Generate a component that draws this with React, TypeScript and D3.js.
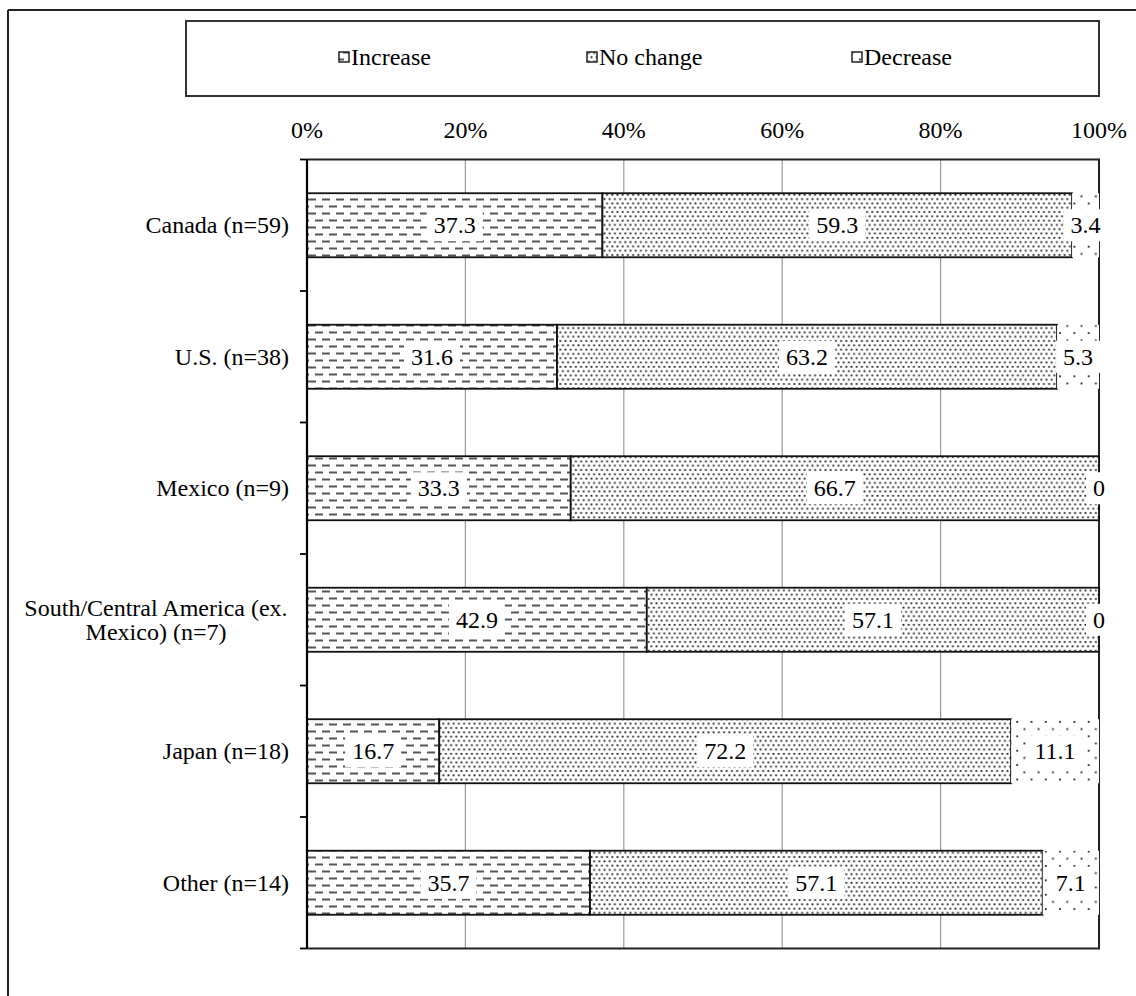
import React from "react";
import * as d3 from "d3";

// Share of respondents by region and expected change
const categories = [
  "Canada (n=59)",
  "U.S. (n=38)",
  "Mexico (n=9)",
  "South/Central America (ex.|Mexico) (n=7)",
  "Japan (n=18)",
  "Other (n=14)",
];
const seriesNames = ["Increase", "No change", "Decrease"];
const increaseValues = [37.3, 31.6, 33.3, 42.9, 16.7, 35.7];
const noChangeValues = [59.3, 63.2, 66.7, 57.1, 72.2, 57.1];
const decreaseValues = [3.4, 5.3, 0, 0, 11.1, 7.1];
const tickValues = [0, 20, 40, 60, 80, 100];
const tickLabels = ["0%", "20%", "40%", "60%", "80%", "100%"];

const W = 1136;
const H = 996;
const FONT = '"Liberation Serif", "DejaVu Serif", serif';
const FS = 24;
const textStyle: React.CSSProperties = { fontFamily: FONT, fontSize: FS };

const plotLeft = 307;
const plotRight = 1099;
const plotTop = 159.5;
const plotBottom = 948.5;

const patternIds = ["pat-inc", "pat-nc", "pat-dec"];

function approxTextWidth(s: string): number {
  // rough Times-style advance widths, used only to size label backgrounds
  let w = 0;
  for (const ch of s) {
    if (ch === "." || ch === " ") w += 0.25;
    else w += 0.5;
  }
  return w * FS;
}

export default function App() {
  const rows = categories.map((c, i) => ({
    cat: c,
    Increase: increaseValues[i],
    "No change": noChangeValues[i],
    Decrease: decreaseValues[i],
  }));

  const stack = d3.stack<any>().keys(seriesNames).offset(d3.stackOffsetExpand);
  const layers = stack(rows);

  const x = d3.scaleLinear().domain([0, 1]).range([plotLeft, plotRight]);
  const xPct = d3.scaleLinear().domain([0, 100]).range([plotLeft, plotRight]);
  const y = d3
    .scaleBand<string>()
    .domain(categories)
    .range([plotTop, plotBottom])
    .paddingInner(0.513)
    .paddingOuter(0.2565);
  const step = y.step();
  const boundaries = d3.range(categories.length + 1).map((i) => plotTop + i * step);

  const legendItems = [
    { name: seriesNames[0], x: 339 },
    { name: seriesNames[1], x: 587 },
    { name: seriesNames[2], x: 852 },
  ];

  return (
    <svg
      width={W}
      height={H}
      style={{ position: "absolute", left: 0, top: 0, background: "#fff", fontFamily: FONT }}
    >
      <defs>
        <pattern id="pat-inc" patternUnits="userSpaceOnUse" width={14} height={14}>
          <rect width={14} height={14} fill="#fff" />
          <line x1={0} y1={3.5} x2={8} y2={3.5} stroke="#555" strokeWidth={2} />
          <line x1={7} y1={10.5} x2={14} y2={10.5} stroke="#555" strokeWidth={2} />
          <line x1={0} y1={10.5} x2={1} y2={10.5} stroke="#555" strokeWidth={2} />
        </pattern>
        <pattern id="pat-nc" patternUnits="userSpaceOnUse" width={5.2} height={8.6}>
          <rect width={5.2} height={8.6} fill="#fff" />
          <rect x={0.4} y={0.4} width={1.8} height={1.8} fill="#222" />
          <rect x={3} y={4.7} width={1.8} height={1.8} fill="#222" />
        </pattern>
        <pattern id="pat-dec" patternUnits="userSpaceOnUse" width={14.3} height={14.4}>
          <rect width={14.3} height={14.4} fill="#fff" />
          <rect x={1} y={1} width={1.8} height={1.8} fill="#222" />
          <rect x={8.15} y={8.2} width={1.8} height={1.8} fill="#222" />
        </pattern>
      </defs>

      {/* outer frame */}
      <line x1={8} y1={10} x2={W} y2={10} stroke="#222" strokeWidth={2} />
      <line x1={8} y1={10} x2={8} y2={H} stroke="#222" strokeWidth={2} />

      {/* legend */}
      <rect x={186} y={21} width={plotRight - 186} height={75} fill="#fff" stroke="#333" strokeWidth={2} />
      {legendItems.map((it, i) => (
        <g key={it.name}>
          <rect x={it.x} y={52} width={10} height={10} fill={`url(#${patternIds[i]})`} stroke="#222" strokeWidth={1.5} />
          <text x={it.x + 12} y={57} style={textStyle} dominantBaseline="central" fill="#000">
            {it.name}
          </text>
        </g>
      ))}

      {/* gridlines */}
      {tickValues.map((t) => (
        <line key={t} x1={xPct(t)} x2={xPct(t)} y1={plotTop} y2={plotBottom} stroke="#999" strokeWidth={1.2} />
      ))}

      {/* plot border */}
      <path
        d={`M${plotLeft},${plotTop}H${plotRight}V${plotBottom}H${plotLeft}`}
        fill="none"
        stroke="#222"
        strokeWidth={2}
      />

      {/* tick labels */}
      {tickValues.map((t, i) => (
        <text key={t} x={xPct(t)} y={130} style={textStyle} textAnchor="middle" dominantBaseline="central" fill="#000">
          {tickLabels[i]}
        </text>
      ))}

      {/* stacked bars */}
      {layers.map((layer, li) => (
        <g key={layer.key}>
          {layer.map((d, i) => {
            const x0 = x(d[0]);
            const x1 = x(d[1]);
            const yy = y(categories[i])!;
            return (
              <rect
                key={i}
                x={x0}
                y={yy}
                width={Math.max(0, x1 - x0)}
                height={y.bandwidth()}
                fill={`url(#${patternIds[li]})`}
                stroke={li < 2 ? "#111" : "none"}
                strokeWidth={li < 2 ? 1.8 : 0}
              />
            );
          })}
        </g>
      ))}

      {/* data labels */}
      {layers.map((layer, li) =>
        layer.map((d, i) => {
          const value = [increaseValues, noChangeValues, decreaseValues][li][i];
          const cx = (x(d[0]) + x(d[1])) / 2;
          const cy = y(categories[i])! + y.bandwidth() / 2;
          const label = String(value);
          const tw = approxTextWidth(label);
          return (
            <g key={`${li}-${i}`}>
              <rect x={cx - tw / 2 - 7} y={cy - 16} width={tw + 14} height={32} fill="#fff" />
              <text x={cx} y={cy} style={textStyle} textAnchor="middle" dominantBaseline="central" fill="#000">
                {label}
              </text>
            </g>
          );
        })
      )}

      {/* left axis */}
      <line x1={plotLeft} x2={plotLeft} y1={plotTop} y2={plotBottom} stroke="#000" strokeWidth={2.2} />
      {boundaries.map((b, i) => (
        <line key={i} x1={300} x2={plotLeft} y1={b} y2={b} stroke="#000" strokeWidth={1.8} />
      ))}

      {/* category labels */}
      {categories.map((c) => {
        const cy = y(c)! + y.bandwidth() / 2;
        const lines = c.split("|");
        if (lines.length === 1) {
          return (
            <text key={c} x={289} y={cy} style={textStyle} textAnchor="end" dominantBaseline="central" fill="#000">
              {c}
            </text>
          );
        }
        return (
          <text key={c} style={textStyle} textAnchor="middle" fill="#000">
            {lines.map((ln, k) => (
              <tspan key={k} x={156} y={cy + (k - (lines.length - 1) / 2) * 24} dominantBaseline="central">
                {ln}
              </tspan>
            ))}
          </text>
        );
      })}
    </svg>
  );
}
